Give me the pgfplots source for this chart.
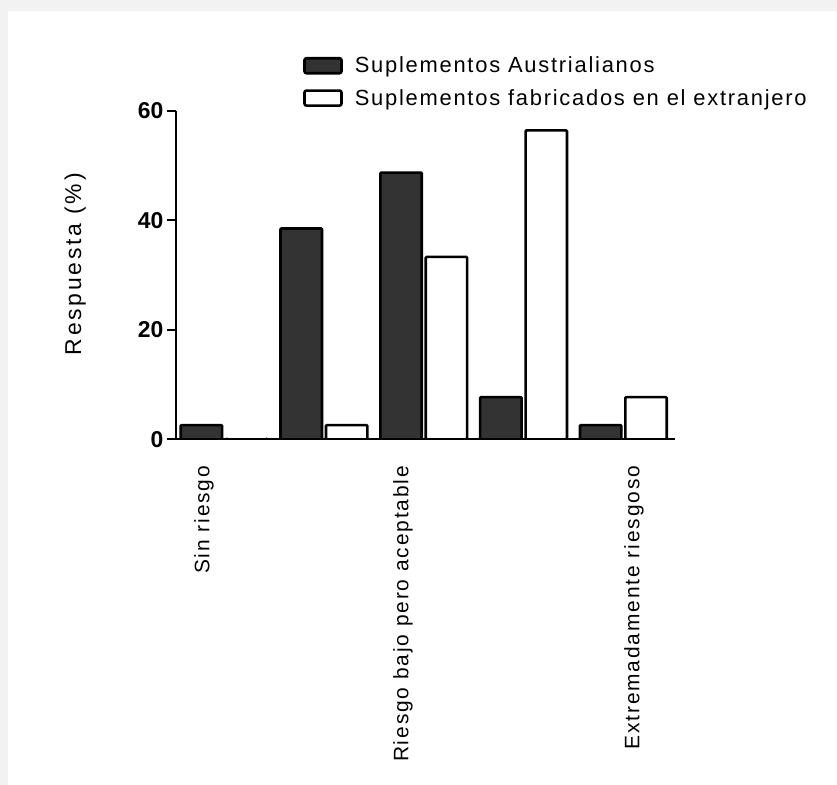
\documentclass[border=0pt]{standalone}
\usepackage{fontspec}
\setmainfont{Liberation Sans}
\newfontfamily\spaced[LetterSpace=12]{Liberation Sans}
\newfontfamily\spacedL[LetterSpace=8]{Liberation Sans}
\newfontfamily\spacedX[LetterSpace=9]{Liberation Sans}
\usepackage{pgfplots}
\pgfplotsset{compat=1.18}
\definecolor{bardark}{HTML}{333333}
\definecolor{bggray}{HTML}{F2F2F2}
\pgfplotsset{boxlegend/.style={legend image code/.code={\draw[##1, rounded corners=2bp] (0bp,-7.5bp) rectangle (37bp,7.5bp);}}}
\begin{document}
\begin{tikzpicture}[x=1bp,y=1bp]
\useasboundingbox (0,0) rectangle (837,-785);
\fill[bggray] (0,0) rectangle (837,-785);
\fill[white] (8,-11) rectangle (837,-785);
\begin{axis}[
  at={(176bp,-439.3bp)}, anchor=south west,
  scale only axis, width=499bp, height=328.6bp,
  xmin=-0.5, xmax=4.5, ymin=0, ymax=60,
  axis x line=bottom, axis y line=left,
  axis line style={-, line width=2bp, black},
  xtick={-0.219,1.775,4.089},
  xticklabels={Sin riesgo, Riesgo bajo pero aceptable, Extremadamente riesgoso},
  x tick style={draw=none},
  xticklabel style={rotate=90, anchor=east, font=\spacedX\fontsize{21}{24}\selectfont},
  xticklabel shift=14bp,
  ytick={0,20,40,60},
  y tick style={line width=2bp, black},
  tick align=outside, major tick length=9bp,
  yticklabel style={font=\bfseries\fontsize{23}{26}\selectfont},
  /pgf/number format/assume math mode=true,
  ylabel={Respuesta (\%)},
  ylabel style={at={(axis description cs:-0.202,0.533)}, anchor=center, font=\spaced\fontsize{23}{26}\selectfont},
  legend style={at={(axis description cs:0.2545,1.17)}, anchor=north west, draw=none, fill=none,
    font=\spacedL\fontsize{22}{25}\selectfont, row sep=11bp, inner sep=0pt},
  legend cell align=left,
]
\addplot[ybar, bar width=0.415, bar shift=-0.245, fill=bardark, draw=black, line width=2.6bp, rounded corners=1bp, boxlegend]
  coordinates {(0,2.6) (1,38.5) (2,48.7) (3,7.7) (4,2.6)};
\addlegendentry{\hspace*{10bp}Suplementos Austrialianos}
\addplot[ybar, bar width=0.415, bar shift=0.21, fill=white, draw=black, line width=2.6bp, rounded corners=1bp, boxlegend]
  coordinates {(0,0) (1,2.6) (2,33.3) (3,56.4) (4,7.7)};
\addlegendentry{\hspace*{10bp}Suplementos fabricados en el extranjero}
\end{axis}
\end{tikzpicture}
\end{document}
